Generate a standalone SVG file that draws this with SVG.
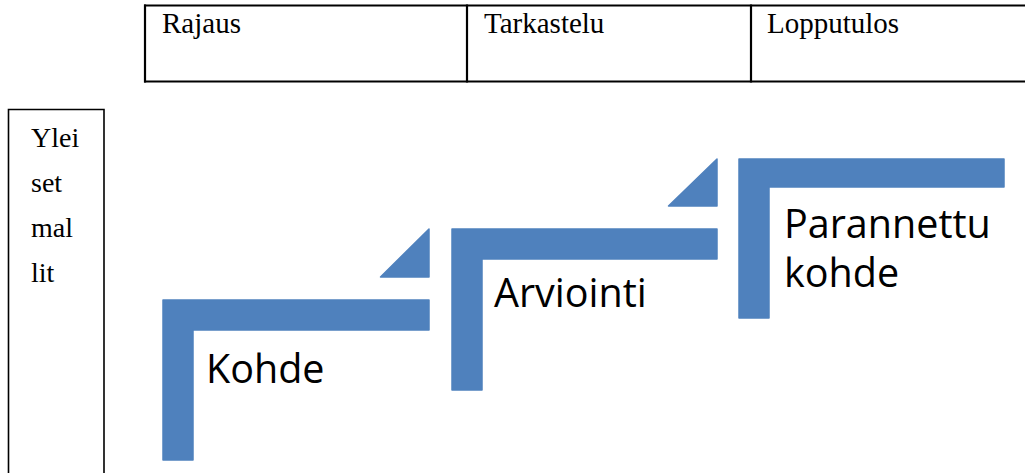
<svg xmlns="http://www.w3.org/2000/svg" width="1025" height="473" viewBox="0 0 1025 473">
  <style>
    .rule { stroke: #000; fill: none; }
    .serif { font-family: "Liberation Serif", "Times New Roman", serif; font-size: 28px; fill: #000; }
    .head { font-size: 29px; }
    .label { font-family: "Open Sans", "Noto Sans", sans-serif; font-size: 39.5px; fill: #000; }
    .step { fill: #4f81bd; stroke: #4f81bd; stroke-width: 1.5; stroke-linejoin: round; }
  </style>
  <rect width="1025" height="473" fill="#fff"/>

  <!-- header table -->
  <g id="table">
    <line class="rule" x1="144" y1="5.5" x2="1025" y2="5.5" stroke-width="2.2"/>
    <line class="rule" x1="144" y1="81.5" x2="1025" y2="81.5" stroke-width="2.2"/>
    <line class="rule" x1="145" y1="4.5" x2="145" y2="82.5" stroke-width="2.2"/>
    <line class="rule" x1="467" y1="4.5" x2="467" y2="82.5" stroke-width="2.2"/>
    <line class="rule" x1="751" y1="4.5" x2="751" y2="82.5" stroke-width="2.2"/>
    <text class="serif head" x="162" y="33">Rajaus</text>
    <text class="serif head" x="484" y="33">Tarkastelu</text>
    <text class="serif head" x="767" y="33">Lopputulos</text>
  </g>

  <!-- side column -->
  <g id="side">
    <path class="rule" d="M8.5 473 V109.5 H104 V473" stroke-width="1.6"/>
    <text class="serif" x="31" y="147">Ylei</text>
    <text class="serif" x="31" y="192">set</text>
    <text class="serif" x="31" y="237">mal</text>
    <text class="serif" x="31" y="282">lit</text>
  </g>

  <!-- step 1 -->
  <g id="kohde">
    <path class="step" d="M163 300 H429 V330 H193 V460 H163 Z"/>
    <path class="step" d="M380.5 277 L429 229 V277 Z"/>
    <text class="label" x="206" y="383">Kohde</text>
  </g>

  <!-- step 2 -->
  <g id="arviointi">
    <path class="step" d="M452 229 H717 V259 H482 V390 H452 Z"/>
    <path class="step" d="M668.5 206 L717 159 V206 Z"/>
    <text class="label" x="494" y="307">Arviointi</text>
  </g>

  <!-- step 3 -->
  <g id="parannettu">
    <path class="step" d="M739 159 H1004 V187 H769 V318 H739 Z"/>
    <text class="label" x="784" y="238">Parannettu</text>
    <text class="label" x="784" y="287">kohde</text>
  </g>
</svg>
